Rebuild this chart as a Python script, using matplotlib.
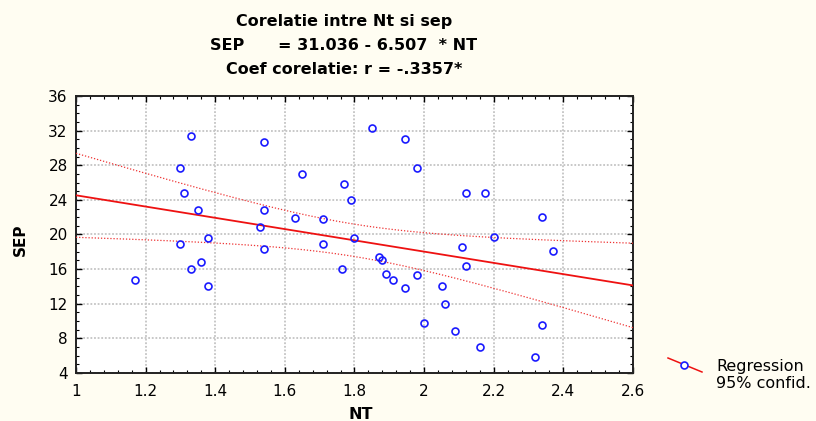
import numpy as np
import matplotlib
matplotlib.use("Agg")
import matplotlib.pyplot as plt
from matplotlib.lines import Line2D
from matplotlib.ticker import MultipleLocator

plt.rcParams['font.family'] = ['DejaVu Sans']

# NT / SEP observations
nt = [1.33, 1.54, 1.30, 1.31, 1.35, 1.54, 1.53, 1.38, 1.30, 1.54,
      1.36, 1.33, 1.17, 1.38, 1.85, 1.945, 1.98, 1.65, 1.77, 1.79,
      2.12, 1.63, 1.71, 1.80, 1.71, 2.11, 1.87, 1.88, 2.12, 1.765,
      1.89, 1.91, 1.98, 2.05, 2.175, 2.34, 2.20, 2.37, 1.945, 2.06,
      2.00, 2.09, 2.34, 2.16, 2.32]
sep = [31.4, 30.7, 27.7, 24.8, 22.8, 22.8, 20.9, 19.6, 18.9, 18.3,
       16.8, 16.0, 14.7, 14.1, 32.3, 31.0, 27.7, 27.0, 25.8, 24.0,
       24.8, 21.9, 21.8, 19.6, 18.9, 18.5, 17.4, 17.0, 16.4, 16.0,
       15.4, 14.7, 15.3, 14.1, 24.8, 22.0, 19.7, 18.1, 13.8, 12.0,
       9.8, 8.9, 9.5, 7.0, 5.9]

intercept = 31.036
slope = -6.507
x_ticks = [1, 1.2, 1.4, 1.6, 1.8, 2, 2.2, 2.4, 2.6]
x_labels = ['1', '1.2', '1.4', '1.6', '1.8', '2', '2.2', '2.4', '2.6']
y_ticks = [4, 8, 12, 16, 20, 24, 28, 32, 36]

bg = '#fffdf2'
fig = plt.figure(figsize=(8.16, 4.21), dpi=100, facecolor=bg)
ax = fig.add_axes([0.0931, 0.114, 0.6826, 0.658])
ax.set_facecolor('white')

x = np.asarray(nt)
y = np.asarray(sep)
n = len(x)
xs = np.linspace(1, 2.6, 200)
fit = intercept + slope * xs
resid = y - (intercept + slope * x)
s = np.sqrt(np.sum(resid ** 2) / (n - 2))
sxx = np.sum((x - x.mean()) ** 2)
t95 = 2.017
half = t95 * s * np.sqrt(1.0 / n + (xs - x.mean()) ** 2 / sxx)

ax.plot(xs, fit, color='#ee1111', lw=1.3, zorder=3)
ax.plot(xs, fit + half, color='#ee3333', lw=0.9, ls=(0, (1, 1.5)), zorder=3)
ax.plot(xs, fit - half, color='#ee3333', lw=0.9, ls=(0, (1, 1.5)), zorder=3)
ax.plot(x, y, 'o', mfc='none', mec='#1a1aff', ms=5, mew=1.2, zorder=4)

ax.set_xlim(1, 2.6)
ax.set_ylim(4, 36)
ax.set_xticks(x_ticks)
ax.set_xticklabels(x_labels)
ax.set_yticks(y_ticks)
ax.xaxis.set_minor_locator(MultipleLocator(0.04))
ax.yaxis.set_minor_locator(MultipleLocator(1))
ax.tick_params(which='both', direction='in', top=True, right=True,
               labelsize=11, colors='black')
ax.tick_params(which='major', length=4, width=1)
ax.tick_params(which='minor', length=2.5, width=0.8)
ax.tick_params(axis='x', pad=8)
ax.tick_params(axis='y', pad=6)
ax.grid(True, which='major', color='#c4c4c4', ls=(0, (1, 1)), lw=1.3)
for sp in ax.spines.values():
    sp.set_linewidth(1.4)
    sp.set_color('#222222')

ax.set_xlabel('NT', fontsize=11.5, fontweight='bold', va='center')
ax.set_ylabel('SEP', fontsize=11, fontweight='bold', va='center')
ax.xaxis.set_label_coords(0.512, -0.148)
ax.yaxis.set_label_coords(-0.1005, 0.48)

fig.text(0.4216, 0.948, 'Corelatie intre Nt si sep', ha='center', va='center',
         fontsize=11.5, fontweight='bold')
fig.text(0.4216, 0.892, 'SEP      = 31.036 - 6.507  * NT', ha='center',
         va='center', fontsize=11.5, fontweight='bold')
fig.text(0.4216, 0.836, 'Coef corelatie: r = -.3357*', ha='center',
         va='center', fontsize=11.5, fontweight='bold')

# legend drawn in figure pixels
W, H = 816, 421
fig.add_artist(Line2D([668 / W, 702 / W], [1 - 358 / H, 1 - 372 / H],
                      color='#ee1111', lw=1.1, transform=fig.transFigure))
fig.add_artist(Line2D([684 / W], [1 - 365 / H], marker='o', mfc='white',
                      mec='#1a1aff', ms=5, mew=1.2, transform=fig.transFigure))
fig.text(716 / W, 1 - 366 / H, 'Regression', ha='left', va='center',
         fontsize=11.5)
fig.text(716 / W, 1 - 383 / H, '95% confid.', ha='left', va='center',
         fontsize=11.5)

fig.savefig('out.png', dpi=100, facecolor=bg)
